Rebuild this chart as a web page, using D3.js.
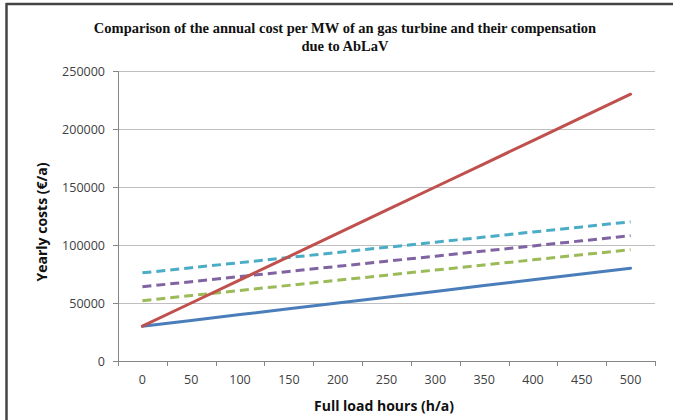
<!DOCTYPE html>
<html><head><meta charset="utf-8">
<script src="https://cdn.jsdelivr.net/npm/d3@7"></script>
<style>body{margin:0;background:#fff}svg{display:block}</style>
</head><body>
<script>
const hours = [0, 50, 100, 150, 200, 250, 300, 350, 400, 450, 500];
const redCost = [30000, 50000, 70000, 90000, 110000, 130000, 150000, 170000, 190000, 210000, 230000];
const blueCost = [30000, 35000, 40000, 45000, 50000, 55000, 60000, 65000, 70000, 75000, 80000];
const cyanComp = [76000, 80400, 84800, 89200, 93600, 98000, 102400, 106800, 111200, 115600, 120000];
const purpleComp = [64000, 68400, 72800, 77200, 81600, 86000, 90400, 94800, 99200, 103600, 108000];
const greenComp = [52000, 56400, 60800, 65200, 69600, 74000, 78400, 82800, 87200, 91600, 96000];
const yTicks = [0, 50000, 100000, 150000, 200000, 250000];
const titleLines = ["Comparison of the annual cost per MW of an gas turbine and their compensation", "due to AbLaV"];

(function () {
const W = 673, H = 420;
const svg = d3.select("body").append("svg").attr("width", W).attr("height", H);

// frame
svg.append("line").attr("x1", 6).attr("x2", W).attr("y1", 4).attr("y2", 4).attr("stroke", "#444").attr("stroke-width", 2.5);
svg.append("line").attr("x1", 6.5).attr("x2", 6.5).attr("y1", 3).attr("y2", H).attr("stroke", "#444").attr("stroke-width", 2.5);

const pL = 118, pR = 655, pT = 71, pB = 361;
const x = d3.scaleBand().domain(hours).range([pL, pR]);
const y = d3.scaleLinear().domain([0, 250000]).range([pB, pT]);

// gridlines
svg.append("g").selectAll("line").data(yTicks.slice(1)).join("line")
  .attr("x1", pL).attr("x2", pR).attr("y1", d => Math.round(y(d)) + 0.5).attr("y2", d => Math.round(y(d)) + 0.5)
  .attr("stroke", "#bfbfbf").attr("stroke-width", 1);

// y axis
const yAxis = svg.append("g").attr("transform", `translate(${pL},0)`)
  .call(d3.axisLeft(y).tickValues(yTicks).tickFormat(d3.format("d")).tickSize(5).tickPadding(8));
yAxis.select(".domain").attr("stroke", "#868686");
yAxis.selectAll(".tick line").attr("stroke", "#868686");
yAxis.selectAll("text").attr("font-family", "'Open Sans', sans-serif").attr("font-size", 12.5).attr("fill", "#404040");

// x axis
const xAxis = svg.append("g").attr("transform", `translate(0,${pB})`)
  .call(d3.axisBottom(x).tickSize(0).tickPadding(14));
xAxis.select(".domain").attr("stroke", "#868686").attr("d", `M${pL},0.5H${pR}`);
xAxis.selectAll("text").attr("font-family", "'Open Sans', sans-serif").attr("font-size", 12.5).attr("fill", "#404040");
const bounds = hours.map(h => x(h)).concat([pR]);
xAxis.selectAll(".xt").data(bounds).join("line").attr("class", "xt")
  .attr("x1", d => Math.round(d) + 0.5).attr("x2", d => Math.round(d) + 0.5).attr("y1", 0).attr("y2", 5)
  .attr("stroke", "#868686");

// lines
const line = d3.line().x((d, i) => x(hours[i]) + x.bandwidth() / 2).y(d => y(d));
const series = [
  {v: greenComp, c: "#9bbb59", dash: "9,5"},
  {v: purpleComp, c: "#8064a2", dash: "9,5"},
  {v: cyanComp, c: "#4bacc6", dash: "9,5"},
  {v: blueCost, c: "#4a7ebb", dash: null},
  {v: redCost, c: "#c0504d", dash: null}
];
series.forEach(s => {
  svg.append("path").datum(s.v).attr("d", line).attr("fill", "none")
    .attr("stroke", s.c).attr("stroke-width", 3).attr("stroke-linecap", s.dash ? "butt" : "round")
    .attr("stroke-dasharray", s.dash);
});

// title
svg.append("g").selectAll("text").data(titleLines).join("text")
  .attr("x", 345).attr("y", (d, i) => 33 + i * 18).attr("text-anchor", "middle")
  .attr("font-family", "'Liberation Serif', 'Times New Roman', serif").attr("font-weight", "bold")
  .attr("font-size", 14.5).attr("fill", "#111").text(d => d);

// axis titles
svg.append("text").attr("transform", "translate(47,222) rotate(-90)").attr("text-anchor", "middle")
  .attr("font-family", "'Open Sans', sans-serif").attr("font-weight", "bold").attr("font-size", 14)
  .attr("fill", "#111").text("Yearly costs (€/a)");
svg.append("text").attr("x", 384).attr("y", 411).attr("text-anchor", "middle")
  .attr("font-family", "'Open Sans', sans-serif").attr("font-weight", "bold").attr("font-size", 14)
  .attr("fill", "#111").text("Full load hours (h/a)");
})();
</script>
</body></html>
